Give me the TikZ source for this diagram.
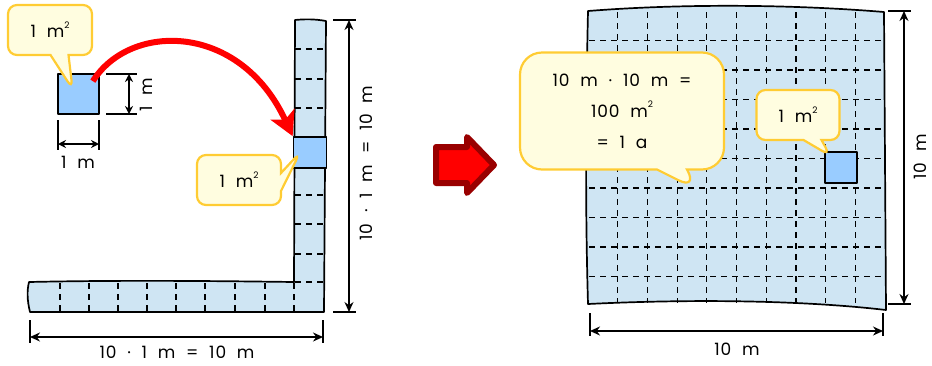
\documentclass[tikz,border=0pt]{standalone}
\usepackage{fontspec}
\setmainfont{Poppins}[LetterSpace=5,WordSpace=2]
\usetikzlibrary{arrows.meta,positioning,shapes.callouts}

\definecolor{stripblue}{RGB}{207,229,243}
\definecolor{unitblue}{RGB}{153,204,255}
\definecolor{notefill}{RGB}{255,253,224}
\definecolor{noteline}{RGB}{255,204,51}
\definecolor{arrowdark}{RGB}{153,0,0}
\newcommand{\sqm}{m\raisebox{0.55em}{\fontsize{9}{9}\selectfont 2}}

\begin{document}
\begin{tikzpicture}[
  x=1pt,y=-1pt,
  font=\fontsize{17}{21}\selectfont,
  outline/.style={draw,line width=1.7pt,line join=round},
  unitsq/.style={outline,fill=unitblue,inner sep=0pt},
  celldash/.style={dash pattern=on 6pt off 5pt,line width=1.2pt},
  tick/.style={line width=1.4pt},
  dim/.style={line width=1.4pt,{Stealth[length=10pt,width=9pt]}-{Stealth[length=10pt,width=9pt]}},
  bubble/.style={rectangle callout,fill=notefill,draw=noteline,line width=2.2pt,
    rounded corners=9pt,callout pointer width=18pt,align=center,inner sep=0pt},
  bigarc/.style={red,line width=6pt,-{Stealth[length=24pt,width=26pt,inset=6pt]}}
]
\useasboundingbox (0,0) rectangle (932,365);

% L-shaped strip of ten squares each way
\draw[outline,fill=stripblue] (295,20) .. controls (305,19) and (315,19) .. (326,21)
  -- (324,312) -- (30,312) .. controls (27,300) and (27,290) .. (29,282)
  .. controls (120,280) and (220,281) .. (294,282) -- cycle;
\foreach \y in {49,79,108,195,224,254,282}
  \draw[celldash] (295,\y) -- (325,\y);
\foreach \x in {60,89,118,147,176,205,235,265,294}
  \draw[celldash] (\x,283) -- (\x,311);

% single squares
\node[unitsq,minimum width=41pt,minimum height=40pt] (sqA) at (78.5,94) {};
\node[unitsq,minimum width=33pt,minimum height=31pt] (sqB) at (310,152.5) {};

% dimensions of the single square
\draw[tick] (58,120) -- (58,150);
\draw[tick] (99,120) -- (99,150);
\coordinate (wA) at (58,144);
\coordinate (wB) at (99,144);
\draw[dim,{Stealth[length=8pt,width=8pt]}-{Stealth[length=8pt,width=8pt]}] (wA) -- (wB);
\node[inner sep=1pt] (wlabel) at (78,162) {1 m};
\draw[tick] (106,74) -- (137,74);
\draw[tick] (106,114) -- (137,114);
\coordinate (hA) at (129,74);
\coordinate (hB) at (129,114);
\draw[dim,{Stealth[length=8pt,width=8pt]}-{Stealth[length=8pt,width=8pt]}] (hA) -- (hB);
\node[rotate=90,inner sep=1pt] (hlabel) at (146,95) {1 m};

% dimensions of the strip
\draw[tick] (333,20) -- (356,20);
\draw[tick] (333,312) -- (356,312);
\coordinate (vA) at (349,20);
\coordinate (vB) at (349,312);
\draw[dim] (vA) -- (vB);
\node[rotate=90,inner sep=1pt] (vlabel) at (366,163) {10 · 1 m = 10 m};
\draw[tick] (30,320) -- (30,343);
\draw[tick] (323,320) -- (323,343);
\coordinate (bA) at (30,337);
\coordinate (bB) at (323,337);
\draw[dim] (bA) -- (bB);
\node[inner sep=1pt] (blabel) at (177,352) {10 · 1 m = 10 m};

% callouts on the left
\node[bubble,minimum width=84pt,minimum height=50pt,
  callout absolute pointer={([shift={(-6,-5)}]sqA.center)}] (noteA) at (50,30) {1 \sqm};
\node[bubble,minimum width=84pt,minimum height=50pt,
  callout absolute pointer={([shift={(-10,0)}]sqB.center)}] (noteB) at (239,180) {1 \sqm};

\draw[bigarc] ([shift={(-7,8)}]sqA.north east) .. controls (130,22) and (240,22) .. (sqB.north west);

% big arrow
\draw[fill=red,draw=arrowdark,line width=6pt,line join=round]
  (436,147) -- (467,147) -- (467,137) -- (494,165) -- (467,193) -- (467,183) -- (436,183) -- cycle;

% the square of 10 m x 10 m
\draw[outline,fill=stripblue] (588,11) .. controls (690,3) and (800,5) .. (884,12)
  -- (886,310) .. controls (800,300) and (690,299) .. (588,304)
  .. controls (585,200) and (586,100) .. cycle;
\foreach \k in {1,...,9}{
  \draw[celldash] (588+29.7*\k,12) -- (588+29.7*\k,303);
  \draw[celldash] (589,11+29.5*\k) -- (884,11+29.5*\k);
}
\node[unitsq,minimum width=32pt,minimum height=31pt] (sqC) at (841,167.5) {};

\node[bubble,minimum width=204pt,minimum height=117pt,rounded corners=22pt,
  callout pointer width=30pt,font=\fontsize{17}{31}\selectfont,
  callout absolute pointer={(698,190)}] (noteC) at (622,111)
  {10 m · 10 m =\\100 \sqm\\= 1 a};
\node[bubble,minimum width=83pt,minimum height=50pt,
  callout absolute pointer={([shift={(-11,-12)}]sqC.center)}] (noteD) at (798,115) {1 \sqm};

% dimensions of the big square
\draw[tick] (888,11) -- (911,11);
\draw[tick] (888,304) -- (911,304);
\coordinate (rA) at (904,11);
\coordinate (rB) at (904,304);
\draw[dim] (rA) -- (rB);
\node[rotate=90,inner sep=1pt] (rlabel) at (920,157) {10 m};
\draw[tick] (590,313) -- (590,336);
\draw[tick] (883,313) -- (883,336);
\coordinate (sA) at (590,331);
\coordinate (sB) at (883,331);
\draw[dim] (sA) -- (sB);
\node[inner sep=1pt] (slabel) at (737,349) {10 m};
\end{tikzpicture}
\end{document}
